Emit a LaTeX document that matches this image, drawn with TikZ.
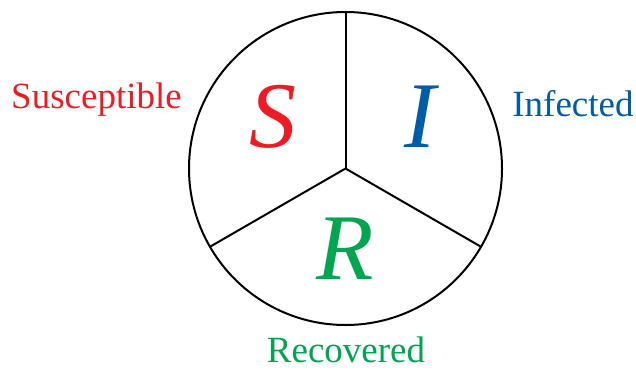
\documentclass[tikz,border=0pt]{standalone}
\usepackage{fontspec}
\setmainfont{Liberation Serif}
\definecolor{sred}{RGB}{237,28,36}
\definecolor{iblue}{RGB}{0,92,169}
\definecolor{rgreen}{RGB}{0,165,80}
\begin{document}
\begin{tikzpicture}[x=1pt,y=-1pt,
  ring/.style={draw=black,line width=2pt},
  spoke/.style={draw=black,line width=2pt},
  big/.style={anchor=base,inner sep=0pt,font=\fontsize{94}{94}\selectfont\itshape},
  lbl/.style={anchor=base,inner sep=0pt,text depth=0pt,font=\fontsize{37}{37}\selectfont}]
\useasboundingbox (0,0) rectangle (636,372);
\coordinate (c) at (345.5,168.5);
\draw[ring] (c) circle[radius=156.5pt];
\path (c) ++(0,-156.5) coordinate (top);
\path (c) ++(-135.5,78.25) coordinate (ll);
\path (c) ++(135.5,78.25) coordinate (lr);
\draw[spoke] (c) -- (top);
\draw[spoke] (c) -- (ll);
\draw[spoke] (c) -- (lr);
\node[big,text=sred] (S) at (273,147) {S};
\node[big,text=iblue] (I) at (420,147) {I};
\node[big,text=rgreen] (R) at (345,279) {R};
\node[lbl,text=sred] (sus) at (96.5,108) {Susceptible};
\node[lbl,text=iblue] (inf) at (573,116) {Infected};
\node[lbl,text=rgreen] (rec) at (346,362) {Recovered};
\end{tikzpicture}
\end{document}
